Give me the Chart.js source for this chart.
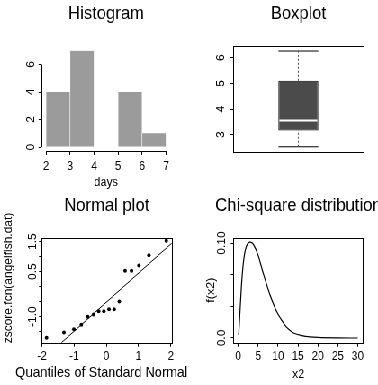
<!DOCTYPE html>
<html>
<head>
<meta charset="utf-8">
<script src="https://cdn.jsdelivr.net/npm/chart.js@4"></script>
<style>
html, body { margin: 0; padding: 0; background: #fff; width: 378px; height: 385px; overflow: hidden; }
/* the reference is squeezed horizontally, so lay out at 420px and scale down */
#sheet { position: absolute; left: 0; top: 0; width: 420px; height: 385px; transform: scaleX(0.9); transform-origin: 0 0; }
canvas { position: absolute; }
</style>
</head>
<body>
<div id="sheet">
  <canvas id="hist" width="230" height="190" style="left:0;top:0"></canvas>
  <canvas id="qq" width="230" height="195" style="left:0;top:190px"></canvas>
  <canvas id="box" width="210" height="190" style="left:210px;top:0"></canvas>
  <canvas id="chi" width="210" height="195" style="left:210px;top:190px"></canvas>
</div>
<script>
// Histogram (days)
var binEdges = [2, 3, 4, 5, 6, 7];
var binCounts = [4, 7, 0, 4, 1];
var histXTicks = [2, 3, 4, 5, 6, 7];
var histYTicks = [0, 2, 4, 6];

// Boxplot
var boxStats = { min: 2.53, q1: 3.16, median: 3.55, q3: 5.1, max: 6.26 };
var boxYTicks = [3, 4, 5, 6];

// Normal plot
var qqTheoretical = [-1.86, -1.32, -1.01, -0.78, -0.58, -0.40, -0.24, -0.08, 0.08, 0.24, 0.40, 0.58, 0.78, 1.01, 1.32, 1.86];
var qqSample = [-1.70, -1.53, -1.42, -1.27, -1.00, -0.93, -0.82, -0.82, -0.75, -0.75, -0.49, 0.53, 0.53, 0.71, 1.05, 1.53];
var qqLineX = [-1.40, 2.03];
var qqLineY = [-1.87, 1.45];
var qqXTicks = [-2, -1, 0, 1, 2];
var qqYTicks = [-1.5, -1.0, -0.5, 0, 0.5, 1.0, 1.5];
var qqYLabels = ['', '-1.0', '', '', '0.5', '', '1.5'];

// Chi-square distribution
var chiX = [0.1, 0.4, 0.8, 1.2, 1.6, 2, 2.5, 3, 3.5, 4, 5, 6, 7, 8, 9, 10, 11, 12, 13, 14, 16, 18, 20, 25, 30];
var chiY = [0.003, 0.025, 0.055, 0.076, 0.089, 0.096, 0.1, 0.101, 0.1, 0.097, 0.087, 0.072, 0.058, 0.045, 0.034,
            0.025, 0.018, 0.012, 0.008, 0.005, 0.0025, 0.0012, 0.0006, 0.0001, 0];
var chiXTicks = [0, 5, 10, 15, 20, 25, 30];
var chiYTicks = [0, 0.0333, 0.0667, 0.10];
var chiYLabels = ['0.0', '', '', '0.10'];

var FONT = "'Liberation Sans', Arial, Helvetica, sans-serif";
var BOX_W = 0.306;

function drawText(ctx, text, x, y, size, rotate) {
  ctx.save();
  ctx.fillStyle = '#000';
  ctx.font = size + 'px ' + FONT;
  ctx.textAlign = 'center';
  ctx.textBaseline = 'middle';
  ctx.translate(x, y);
  if (rotate) ctx.rotate(-Math.PI / 2);
  ctx.fillText(text, 0, 0);
  ctx.restore();
}

// main title and axis titles, drawn without squeezing them into the plot width
Chart.register({
  id: 'labels',
  afterDraw: function (chart, args, opts) {
    var ctx = chart.ctx, a = chart.chartArea;
    var cx = (a.left + a.right) / 2, cy = (a.top + a.bottom) / 2;
    if (opts.main) drawText(ctx, opts.main, cx, opts.mainY, 18.5, false);
    if (opts.xlab) drawText(ctx, opts.xlab.text, opts.xlab.x || cx, opts.xlab.y, opts.xlab.size, false);
    if (opts.ylab) drawText(ctx, opts.ylab.text, opts.ylab.x, opts.ylab.y || cy, opts.ylab.size, true);
  }
});

// box round the plot, or R style axis lines from first to last tick
Chart.register({
  id: 'rAxes',
  afterDraw: function (chart, args, opts) {
    var ctx = chart.ctx, a = chart.chartArea;
    ctx.save();
    ctx.strokeStyle = '#000';
    ctx.lineWidth = 1;
    if (opts.mode === 'frame') {
      ctx.strokeRect(Math.round(a.left) + 0.5, Math.round(a.top) + 0.5,
        Math.round(a.right - a.left), Math.round(a.bottom - a.top));
    } else if (opts.mode === 'axes') {
      var xs = chart.scales.x, ys = chart.scales.y;
      var xb = Math.round(a.bottom) + 0.5, yl = Math.round(a.left) + 0.5;
      ctx.beginPath();
      ctx.moveTo(xs.getPixelForValue(xs.ticks[0].value), xb);
      ctx.lineTo(xs.getPixelForValue(xs.ticks[xs.ticks.length - 1].value), xb);
      ctx.moveTo(yl, ys.getPixelForValue(ys.ticks[0].value));
      ctx.lineTo(yl, ys.getPixelForValue(ys.ticks[ys.ticks.length - 1].value));
      ctx.stroke();
    }
    ctx.restore();
  }
});

function axis(o) {
  var cfg = {
    type: 'linear',
    bounds: 'data',
    offset: false,
    min: o.min,
    max: o.max,
    afterBuildTicks: function (s) { s.ticks = o.ticks.map(function (v) { return { value: v }; }); },
    afterFit: function (s) { if (o.vertical) s.width = o.size; else s.height = o.size; },
    grid: { display: true, offset: false, drawOnChartArea: false, drawTicks: true,
            tickLength: o.vertical ? 3 : 4, color: '#000', lineWidth: 1 },
    border: { display: false },
    ticks: {
      autoSkip: false,
      padding: o.pad,
      color: '#000',
      font: { family: FONT, size: 12 },
      callback: function (v, i) { return o.labels ? o.labels[i] : String(o.ticks[i]); }
    }
  };
  if (o.vertical) {
    cfg.ticks.minRotation = 90;
    cfg.ticks.maxRotation = 90;
    cfg.ticks.crossAlign = 'center';
  } else {
    cfg.ticks.maxRotation = 0;
  }
  return cfg;
}

function base(opts) {
  opts.responsive = false;
  opts.animation = false;
  opts.events = [];
  opts.plugins.legend = { display: false };
  opts.plugins.tooltip = { enabled: false };
  return opts;
}

// Histogram
new Chart(document.getElementById('hist'), {
  type: 'bar',
  data: {
    datasets: [{
      data: binCounts.map(function (c, i) { return { x: (binEdges[i] + binEdges[i + 1]) / 2, y: c }; }),
      backgroundColor: '#9b9b9b',
      borderColor: '#fff',
      borderWidth: { left: 0.6, right: 0.6, top: 0, bottom: 0 },
      borderSkipped: false,
      barPercentage: 1,
      categoryPercentage: 1
    }]
  },
  options: base({
    layout: { padding: { top: 46.9, right: 40.2, bottom: 0, left: 0 } },
    scales: {
      x: axis({ min: 1.8, max: 7.2, ticks: histXTicks, size: 39.1, pad: 4.9 }),
      y: axis({ vertical: true, min: -0.28, max: 7.28, ticks: histYTicks, size: 45.8, pad: 5.1 })
    },
    plugins: {
      labels: { main: 'Histogram', mainY: 13.7, xlab: { text: 'days', y: 183, size: 12.5 } },
      rAxes: { mode: 'axes' }
    }
  })
});

// Boxplot
var capL = 0.5 - BOX_W / 2, capR = 0.5 + BOX_W / 2;
function seg(x1, y1, x2, y2) { return [{ x: x1, y: y1 }, { x: x2, y: y2 }]; }
new Chart(document.getElementById('box'), {
  type: 'bar',
  data: {
    labels: [''],
    datasets: [
      { type: 'line', xAxisID: 'x2', data: seg(capL + 0.008, boxStats.median, capR - 0.008, boxStats.median),
        borderColor: '#fff', borderWidth: 2, pointRadius: 0, order: 0 },
      { type: 'bar', data: [[boxStats.q1, boxStats.q3]], backgroundColor: '#4b4b4b', borderColor: '#000',
        borderWidth: 1, borderSkipped: false, grouped: false, barPercentage: BOX_W, categoryPercentage: 1, order: 1 },
      { type: 'line', xAxisID: 'x2', data: seg(0.5, boxStats.q3, 0.5, boxStats.max),
        borderColor: '#555', borderWidth: 1, borderDash: [2, 2], pointRadius: 0, order: 2 },
      { type: 'line', xAxisID: 'x2', data: seg(0.5, boxStats.min, 0.5, boxStats.q1),
        borderColor: '#555', borderWidth: 1, borderDash: [2, 2], pointRadius: 0, order: 2 },
      { type: 'line', xAxisID: 'x2', data: seg(capL, boxStats.max, capR, boxStats.max),
        borderColor: '#000', borderWidth: 1, pointRadius: 0, order: 2 },
      { type: 'line', xAxisID: 'x2', data: seg(capL, boxStats.min, capR, boxStats.min),
        borderColor: '#000', borderWidth: 1, pointRadius: 0, order: 2 }
    ]
  },
  options: base({
    layout: { padding: { top: 46, right: 15.9, bottom: 38.3, left: 0 } },
    scales: {
      x: { type: 'category', display: false, offset: true },
      x2: { type: 'linear', display: false, offset: false, min: 0, max: 1 },
      y: axis({ vertical: true, min: 2.338, max: 6.456, ticks: boxYTicks, size: 48.9, pad: 6.5 })
    },
    plugins: { labels: { main: 'Boxplot', mainY: 13.7 }, rAxes: { mode: 'frame' } }
  })
});

// Normal plot
new Chart(document.getElementById('qq'), {
  type: 'scatter',
  data: {
    datasets: [
      { data: qqTheoretical.map(function (q, i) { return { x: q, y: qqSample[i] }; }),
        pointRadius: 2, pointBackgroundColor: '#000', pointBorderWidth: 0, order: 0 },
      { data: qqLineX.map(function (x, i) { return { x: x, y: qqLineY[i] }; }),
        showLine: true, borderColor: '#000', borderWidth: 1, pointRadius: 0, order: 1 }
    ]
  },
  options: base({
    layout: { padding: { top: 47.7, right: 39.2, bottom: 0, left: 0 } },
    scales: {
      x: axis({ min: -2.01, max: 2.03, ticks: qqXTicks, size: 42.3, pad: 2.8 }),
      y: axis({ vertical: true, min: -1.867, max: 1.633, ticks: qqYTicks, labels: qqYLabels, size: 46.3, pad: -3.7 })
    },
    plugins: {
      labels: {
        main: 'Normal plot', mainY: 15.5,
        xlab: { text: 'Quantiles of Standard Normal', x: 112.6, y: 182.7, size: 14.5 },
        ylab: { text: 'zscore.fcn(angelfish.dat)', x: 10, y: 88, size: 12 }
      },
      rAxes: { mode: 'frame' }
    }
  })
});

// Chi-square distribution
new Chart(document.getElementById('chi'), {
  type: 'scatter',
  data: {
    datasets: [{
      data: chiX.map(function (x, i) { return { x: x, y: chiY[i] }; }),
      showLine: true, borderColor: '#000', borderWidth: 1.2, pointRadius: 0,
      tension: 0.4, cubicInterpolationMode: 'monotone'
    }]
  },
  options: base({
    layout: { padding: { top: 47.7, right: 16.3, bottom: 0, left: 0 } },
    scales: {
      x: axis({ min: -1.2, max: 31.4, ticks: chiXTicks, size: 42.3, pad: 2.8 }),
      y: axis({ vertical: true, min: -0.00495, max: 0.10558, ticks: chiYTicks, labels: chiYLabels, size: 49.4, pad: -2 })
    },
    plugins: {
      labels: {
        main: 'Chi-square distribution', mainY: 15.5,
        xlab: { text: 'x2', y: 185, size: 12.5 },
        ylab: { text: 'f(x2)', x: 25, size: 12.5 }
      },
      rAxes: { mode: 'frame' }
    }
  })
});
</script>
</body>
</html>
